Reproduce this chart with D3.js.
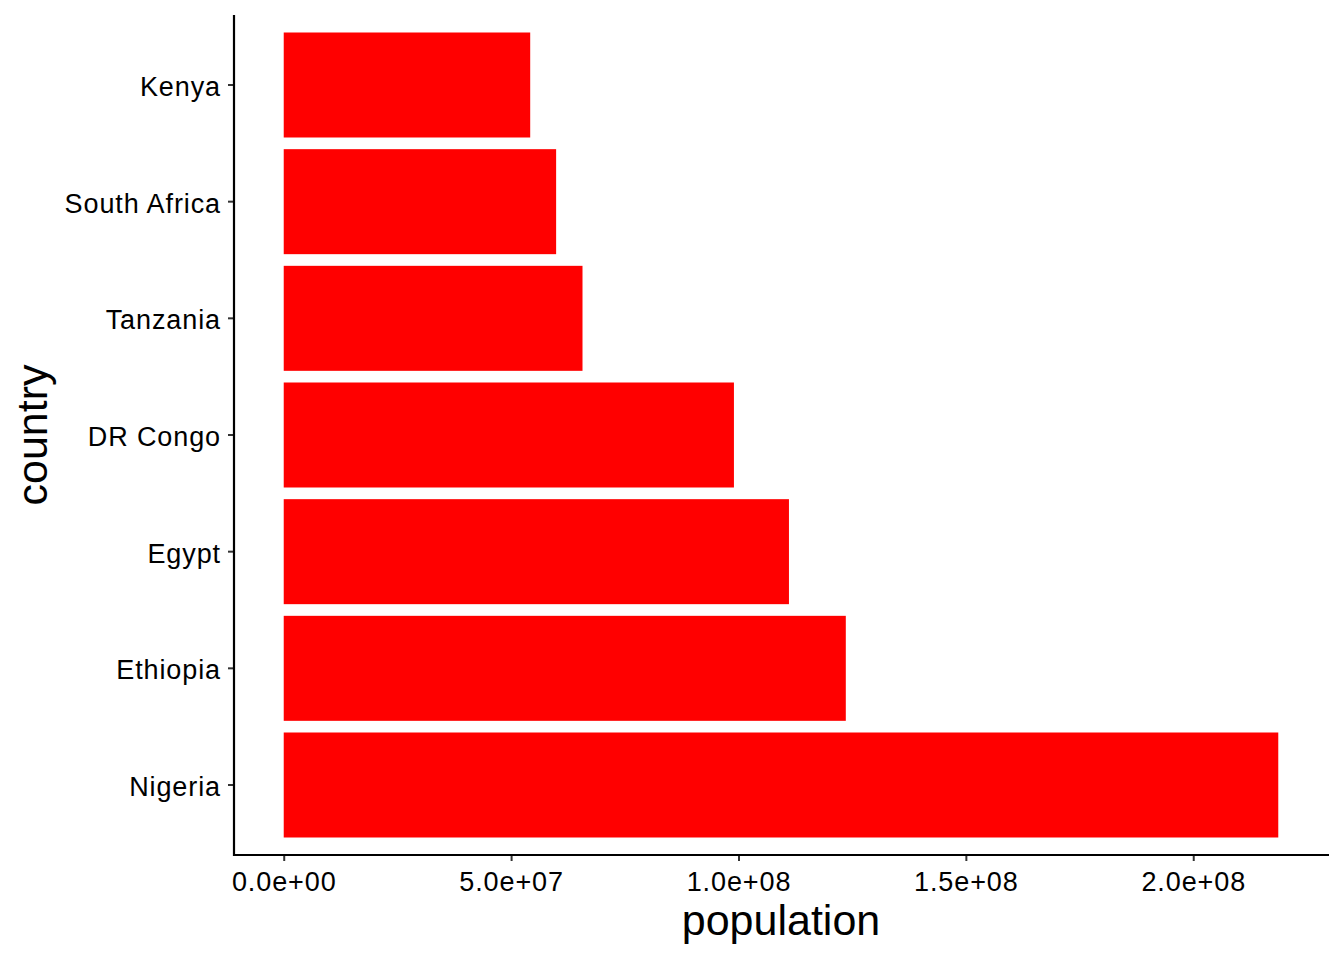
<!DOCTYPE html>
<html><head><meta charset="utf-8">
<script src="https://cdn.jsdelivr.net/npm/d3@7"></script>
<style>body{margin:0;background:#fff}svg{display:block}text{font-family:"Liberation Sans",Arial,sans-serif}</style>
</head><body>
<svg id="c" width="1344" height="960"></svg>
<script>
const countries = ["Nigeria","Ethiopia","Egypt","DR Congo","Tanzania","South Africa","Kenya"];
const population = [218.7e6, 123.6e6, 111.1e6, 99.0e6, 65.7e6, 59.9e6, 54.2e6];
const xTicks = [0, 5e7, 1e8, 1.5e8, 2e8];
const xTickLabels = ["0.0e+00","5.0e+07","1.0e+08","1.5e+08","2.0e+08"];

const svg = d3.select("#c");
const L = 234, R = 1328, T = 15, B = 855;
const maxV = d3.max(population);
const x = d3.scaleLinear().domain([-0.05*maxV, 1.05*maxV]).range([L, R]);
const y = d3.scaleBand().domain(countries).range([B, T]).paddingInner(0.1).paddingOuter(0.15);

svg.append("g").selectAll("rect").data(countries).join("rect")
  .attr("x", x(0)).attr("y", d => y(d))
  .attr("width", (d,i) => x(population[i]) - x(0))
  .attr("height", y.bandwidth()).attr("fill", "#FF0000");

const xa = svg.append("g").attr("transform", `translate(0,${B})`)
  .call(d3.axisBottom(x).tickValues(xTicks).tickFormat((d,i)=>xTickLabels[i]).tickSizeOuter(0).tickSize(6).tickPadding(6));
const ya = svg.append("g").attr("transform", `translate(${L},0)`)
  .call(d3.axisLeft(y).tickSizeOuter(0).tickSize(6).tickPadding(7));
[xa, ya].forEach(a => {
  a.select(".domain").remove();
  a.selectAll(".tick line").attr("stroke", "#333").attr("stroke-width", 2);
  a.selectAll(".tick text").attr("font-size", 27).attr("fill", "#000")
    .attr("letter-spacing", "0.9px").attr("font-family", "Liberation Sans, Arial, sans-serif");
});
xa.selectAll(".tick text").attr("dy", null).attr("y", 36);
ya.selectAll(".tick text").attr("dy", "0.41em");

svg.append("line").attr("x1", L).attr("x2", R+1).attr("y1", B).attr("y2", B).attr("stroke", "#000").attr("stroke-width", 2.2);
svg.append("line").attr("x1", L).attr("x2", L).attr("y1", T).attr("y2", B+1).attr("stroke", "#000").attr("stroke-width", 2.2);

svg.append("text").attr("x", (L+R)/2).attr("y", 935).attr("text-anchor", "middle")
  .attr("font-size", 43).attr("fill", "#000").text("population");
svg.append("text").attr("transform", `translate(47,${(T+B)/2}) rotate(-90)`).attr("text-anchor", "middle")
  .attr("font-size", 43).attr("fill", "#000").text("country");
</script>
</body></html>
